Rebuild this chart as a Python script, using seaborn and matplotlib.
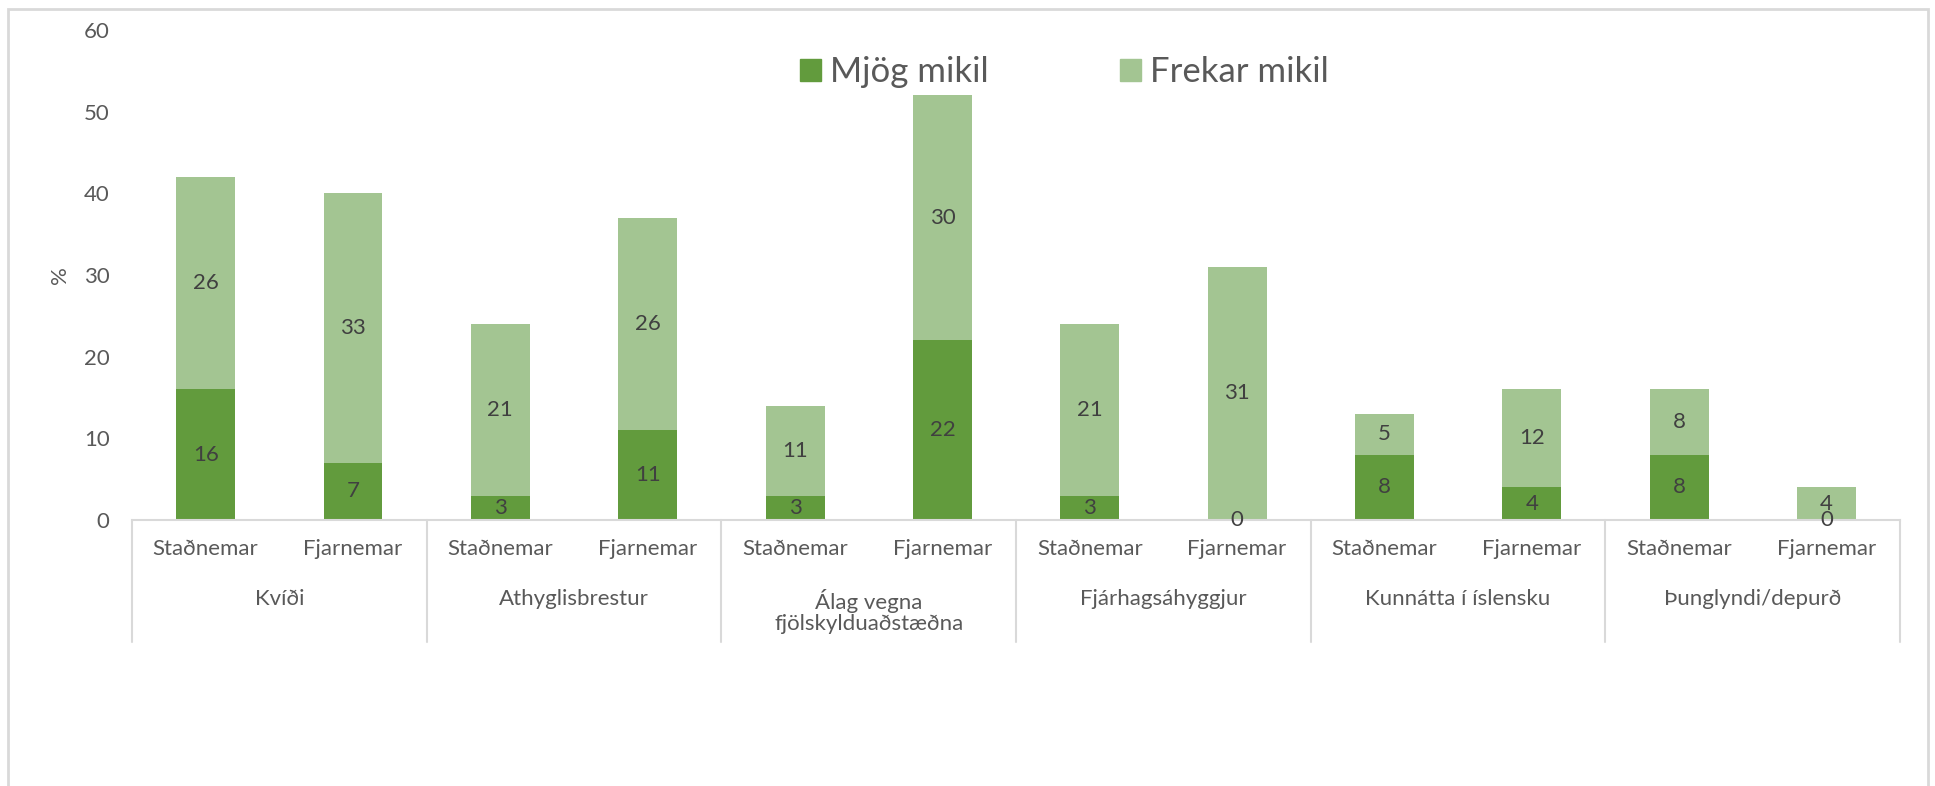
import numpy as np
import pandas as pd
import matplotlib.pyplot as plt
import seaborn as sns
from matplotlib.patches import Patch, Rectangle

groups = ['Kvíði', 'Athyglisbrestur', 'Álag vegna\nfjölskylduaðstæðna',
          'Fjárhagsáhyggjur', 'Kunnátta í íslensku', 'Þunglyndi/depurð']
students = ['Staðnemar', 'Fjarnemar']
mjog_mikil = [16, 7, 3, 11, 3, 22, 3, 0, 8, 4, 8, 0]
frekar_mikil = [26, 33, 21, 26, 11, 30, 21, 31, 5, 12, 8, 4]

dark = '#629b3d'
light = '#a3c592'
grey_txt = '#595959'
line_c = '#d9d9d9'

df = pd.DataFrame({
    'group': np.repeat(groups, 2),
    'student': students * len(groups),
    'mjog': mjog_mikil,
    'frekar': frekar_mikil,
})
df['total'] = df['mjog'] + df['frekar']
df['bar'] = [f'{g}|{s}' for g, s in zip(df['group'], df['student'])]

sns.set_style('white')
plt.rcParams['font.family'] = ['Lato', 'DejaVu Sans']

fig = plt.figure(figsize=(19.35, 7.86), dpi=100)
ax = fig.add_axes([0.0682, 0.3384, 0.9138, 0.6234])

sns.barplot(data=df, x='bar', y='total', order=df['bar'], color=light,
            saturation=1, width=0.4, linewidth=0, errorbar=None, ax=ax)
sns.barplot(data=df, x='bar', y='mjog', order=df['bar'], color=dark,
            saturation=1, width=0.4, linewidth=0, errorbar=None, ax=ax)

for i, r in df.iterrows():
    ax.text(i, r['mjog'] / 2, str(r['mjog']), ha='center', va='center',
            fontsize=16, color='#404040')
    ax.text(i, r['mjog'] + r['frekar'] / 2, str(r['frekar']), ha='center',
            va='center', fontsize=16, color='#404040')

ax.set_ylim(0, 60)
ax.set_xlim(-0.5, len(df) - 0.5)
ax.set_yticks(range(0, 61, 10))
ax.set_xticks(range(len(df)))
ax.set_xticklabels(df['student'])
ax.tick_params(axis='y', length=0, pad=16, labelsize=16, labelcolor=grey_txt)
ax.tick_params(axis='x', length=0, pad=14, labelsize=16, labelcolor=grey_txt)
ax.set_xlabel('')
ax.set_ylabel('%', fontsize=16, color=grey_txt, labelpad=10)
for s in ['left', 'top', 'right']:
    ax.spines[s].set_visible(False)
ax.spines['bottom'].set_color(line_c)
ax.spines['bottom'].set_linewidth(1.5)

# group dividers and group names under the axis
trans = ax.get_xaxis_transform()
for k in range(len(groups) + 1):
    xb = 2 * k - 0.5
    ax.plot([xb, xb], [0, -0.249], transform=trans, color=line_c, lw=1.5,
            clip_on=False)
for k, g in enumerate(groups):
    ax.text(2 * k + 0.5, -0.14, g, transform=trans, ha='center', va='top',
            fontsize=16, color=grey_txt, linespacing=1.1)

handles = [Patch(color=dark, label='Mjög mikil'),
           Patch(color=light, label='Frekar mikil')]
fig.legend(handles=handles, loc='center', bbox_to_anchor=(0.55, 0.908),
           ncol=2, frameon=False, fontsize=25, handlelength=0.6,
           handleheight=0.6, handletextpad=0.25, columnspacing=3.8,
           labelcolor=grey_txt)

fig.patches.append(Rectangle((0.004, -0.1), 0.9925, 1.0886, transform=fig.transFigure,
                             fill=False, edgecolor=line_c, lw=2))

fig.savefig('out.png', dpi=100)
